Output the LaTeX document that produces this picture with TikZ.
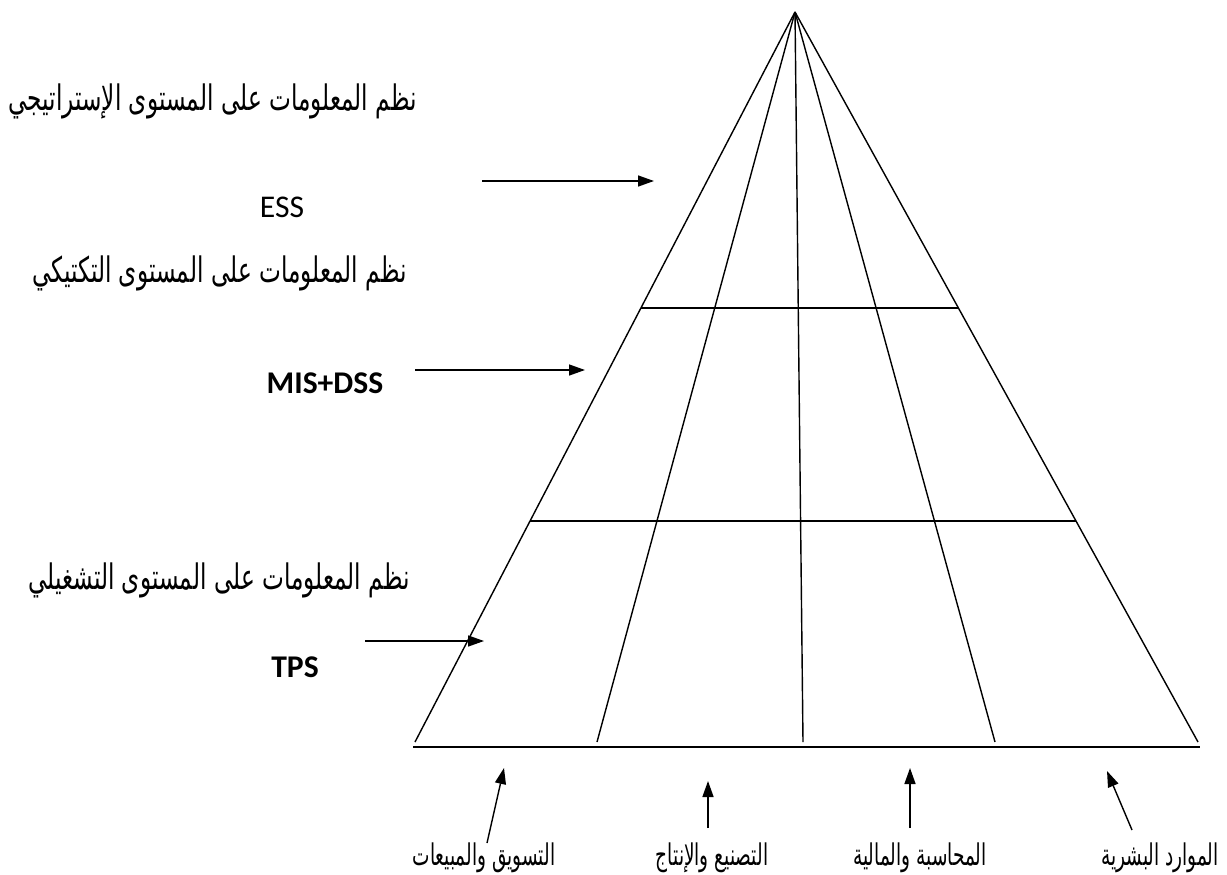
\documentclass[tikz,border=0pt]{standalone}
\usepackage{fontspec}
\setmainfont{Carlito}
\newfontfamily\arabicfont[Script=Arabic, FakeStretch=0.62]{DejaVu Sans}
\newfontfamily\arabiclevel[Script=Arabic, FakeStretch=0.66]{DejaVu Sans}
\TeXXeTstate=1
\usetikzlibrary{arrows.meta,calc}
\begin{document}
\begin{tikzpicture}[x=0.02cm, y=-0.02cm,
  edge/.style={line width=0.8pt},
  pointer/.style={line width=0.8pt, -{Triangle[length=3.2mm, width=2.2mm]}},
  level/.style={anchor=east, inner sep=0pt, font=\fontsize{20}{24}\selectfont\arabiclevel},
  unit/.style={inner sep=0pt, font=\fontsize{17}{20}\selectfont\arabicfont},
  short/.style={inner sep=0pt, font=\fontsize{18}{21}\selectfont}]
\useasboundingbox (0,0) rectangle (1227,875);

% pyramid
\coordinate (apex) at (795,12);
\coordinate (b1) at (415,742);
\coordinate (b2) at (597,742);
\coordinate (b3) at (803,742);
\coordinate (b4) at (995,742);
\coordinate (b5) at (1198,742);
\draw[edge] (apex) -- (b1);
\draw[edge] (apex) -- (b2);
\draw[edge] (apex) -- (b3);
\draw[edge] (apex) -- (b4);
\draw[edge] (apex) -- (b5);
\coordinate (t1) at ($(apex)!0.4055!(b1)$);
\coordinate (t2) at ($(apex)!0.4055!(b5)$);
\coordinate (m1) at ($(apex)!0.6973!(b1)$);
\coordinate (m2) at ($(apex)!0.6973!(b5)$);
\draw[edge] (t1) -- (t2);
\draw[edge] (m1) -- (m2);
\coordinate (base L) at (413,747);
\coordinate (base R) at (1200,747);
\draw[line width=1.3pt] (base L) -- (base R);

% levels
\node[level] (Strategic) at (417,101) {\beginR نظم المعلومات على المستوى الإستراتيجي\endR};
\node[short] (ESS) at (282,207) {ESS};
\node[level] (Tactical) at (407,273) {\beginR نظم المعلومات على المستوى التكتيكي\endR};
\node[short, font=\fontsize{18}{21}\selectfont\bfseries] (MIS) at (325,383) {MIS+DSS};
\node[level] (Operational) at (410,580) {\beginR نظم المعلومات على المستوى التشغيلي\endR};
\node[short, font=\fontsize{18}{21}\selectfont\bfseries] (TPS) at (295,667) {TPS};

\coordinate (ESS from) at (482,181);
\coordinate (ESS to) at (654,181);
\coordinate (MIS from) at (415,370);
\coordinate (MIS to) at (585,370);
\coordinate (TPS from) at (365,641);
\coordinate (TPS to) at (484,641);
\draw[pointer] (ESS from) -- (ESS to);
\draw[pointer] (MIS from) -- (MIS to);
\draw[pointer] (TPS from) -- (TPS to);

% functional areas
\node[unit] (Marketing) at (484,858) {\beginR التسويق والمبيعات\endR};
\node[unit] (Production) at (712,858) {\beginR التصنيع والإنتاج\endR};
\node[unit] (Finance) at (920,858) {\beginR المحاسبة والمالية\endR};
\node[unit] (HR) at (1160,858) {\beginR الموارد البشرية\endR};

\coordinate (Marketing from) at (487,843);
\coordinate (Production from) at (708,828);
\coordinate (Finance from) at (910,828);
\coordinate (HR from) at (1132,830);
\coordinate (Marketing tip) at (504,768);
\coordinate (Production tip) at (708,781);
\coordinate (Finance tip) at (910,768);
\coordinate (HR tip) at (1107,771);
\draw[pointer] (Marketing from) -- (Marketing tip);
\draw[pointer] (Production from) -- (Production tip);
\draw[pointer] (Finance from) -- (Finance tip);
\draw[pointer] (HR from) -- (HR tip);
\end{tikzpicture}
\end{document}
